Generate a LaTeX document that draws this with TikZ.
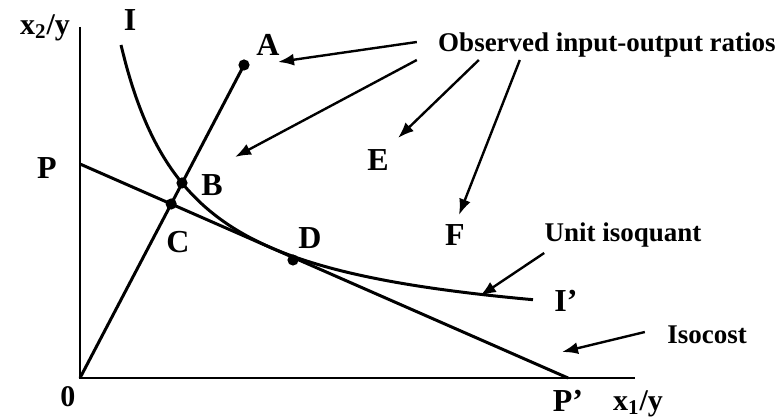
\documentclass[tikz,border=0pt]{standalone}
\usepackage{fontspec}
\setmainfont{Liberation Serif}
\usetikzlibrary{arrows.meta}

\begin{document}
\begin{tikzpicture}[x=5pt,y=5pt,
    lbl/.style={font=\fontsize{13.5}{16}\selectfont\bfseries, inner sep=0pt},
    pt/.style={font=\fontsize{16}{18}\selectfont\bfseries, inner sep=0pt},
    axlbl/.style={font=\fontsize{15}{17}\selectfont\bfseries, inner sep=0pt},
    curve/.style={line width=1.5pt},
    pointer/.style={line width=1.2pt,-{Latex[length=8pt,width=6pt]}}]
    \useasboundingbox (-8,-3.9) rectangle (69.7,37.8);
    % axes
    \coordinate (O) at (0,0);
    \coordinate (ytop) at (0,35.1);
    \coordinate (xend) at (55.5,0);
    \draw[line width=1.3pt] (ytop) -- (O) -- (xend);
    \node[axlbl] (zero) at (-1.2,-1.9) {0};
    \node[axlbl] (ylab) at (-3.5,35) {x\textsubscript{2}/y};
    \node[axlbl] (xlab) at (55.8,-2.6) {x\textsubscript{1}/y};
    % isocost
    \coordinate (P) at (0,21.4);
    \coordinate (Pp) at (48.8,0);
    \draw[curve] (P) -- (Pp);
    \node[pt] (Plab) at (-3.3,21) {P};
    \node[pt] (Pplab) at (48.8,-2.3) {P'};
    % unit isoquant
    \draw[curve] plot[domain=4.1:45.3,samples=80,smooth] (\x,{3.44+212.01/(\x+3)});
    \node[pt] (Ilab) at (5,35.8) {I};
    \node[pt] (Iplab) at (48.6,7.7) {I'};
    % ray from origin
    \coordinate (A) at (16.4,31.3);
    \coordinate (B) at (10.2,19.5);
    \coordinate (C) at (9.12,17.4);
    \coordinate (D) at (21.3,11.8);
    \draw[curve] (O) -- (A);
    \foreach \p in {A,B,C,D}
        \fill (\p) circle (2.8pt);
    \node[pt] (Alab) at (18.8,33.3) {A};
    \node[pt] (Blab) at (13.2,19.3) {B};
    \node[pt] (Clab) at (9.8,13.6) {C};
    \node[pt] (Dlab) at (23,14) {D};
    \node[pt] (Elab) at (29.8,21.8) {E};
    \node[pt] (Flab) at (37.5,14.3) {F};
    % captions and pointers
    \node[lbl] (obs) at (52.7,33.3) {Observed input-output ratios};
    \node[lbl] (iso) at (54.3,14.3) {Unit isoquant};
    \node[lbl] (cost) at (62.7,4.3) {Isocost};
    \coordinate (tA) at (19.8,31.6);
    \coordinate (tB) at (15.5,22.1);
    \coordinate (tE) at (31.8,24);
    \coordinate (tF) at (37.9,16.3);
    \coordinate (tIso) at (40,8.2);
    \coordinate (tCost) at (48.2,2.6);
    \draw[pointer] ([shift={(-2.1,0.3)}]obs.west) -- (tA);
    \draw[pointer] ([shift={(-2.1,-1.5)}]obs.west) -- (tB);
    \draw[pointer] ([shift={(4.1,-1.5)}]obs.west) -- (tE);
    \draw[pointer] ([shift={(8.2,-1.5)}]obs.west) -- (tF);
    \draw[pointer] ([shift={(0,-1.8)}]iso.west) -- (tIso);
    \draw[pointer] ([shift={(-2.2,0.3)}]cost.west) -- (tCost);
\end{tikzpicture}
\end{document}
